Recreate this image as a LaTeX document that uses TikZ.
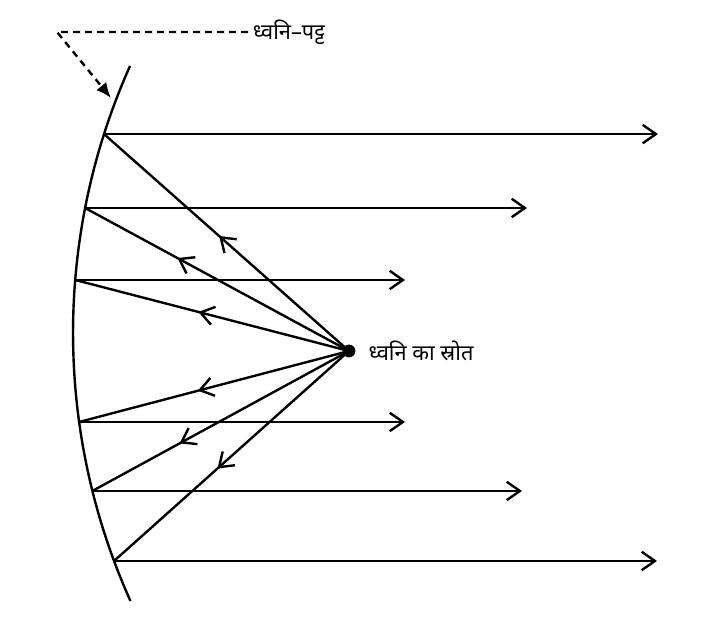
\documentclass[tikz,border=0pt]{standalone}
\usepackage{fontspec}
\newfontfamily\hindi[Script=Devanagari]{Noto Sans}
\usetikzlibrary{arrows.meta,decorations.markings,positioning}

\begin{document}
\begin{tikzpicture}[
    ray/.style={line width=1.7pt},
    outarrow/.style={ray, -{Straight Barb[length=3.3mm,width=4.6mm]}},
    inarrow/.style={ray, postaction={decorate},
      decoration={markings, mark=at position #1 with {\arrow{Straight Barb[length=3.3mm,width=4.6mm]}}}},
    pointer/.style={line width=1.7pt, dash pattern=on 1.7mm off 1.3mm, -{Latex[length=3.8mm,width=3.2mm]}},
    every node/.style={font=\hindi\fontsize{15.5}{18}\selectfont}
  ]
  \useasboundingbox (0,0) rectangle (17.75,15.5);

  % the curved sounding board
  \coordinate (C) at (18.175,7.175);
  \draw [line width=1.7pt] ([shift={(155.9:16.35)}]C) arc (155.9:204.19:16.35);
  \coordinate (r1) at ([shift={(162.29:16.35)}]C);
  \coordinate (r2) at ([shift={(168.98:16.35)}]C);
  \coordinate (r3) at ([shift={(175.35:16.35)}]C);
  \coordinate (r4) at ([shift={(187.82:16.35)}]C);
  \coordinate (r5) at ([shift={(193.98:16.35)}]C);
  \coordinate (r6) at ([shift={(200.40:16.35)}]C);

  % source
  \node [circle, fill, inner sep=0pt, minimum size=3.2mm] (src) at (8.725,6.725) {};
  \node [right=2mm of src] (srclabel) {ध्वनि का स्रोत};

  % rays from the source to the board
  \draw [inarrow=0.53] (src.center) -- (r1);
  \draw [inarrow=0.65] (src.center) -- (r2);
  \draw [inarrow=0.55] (src.center) -- (r3);
  \draw [inarrow=0.56] (src.center) -- (r4);
  \draw [inarrow=0.66] (src.center) -- (r5);
  \draw [inarrow=0.56] (src.center) -- (r6);

  % reflected rays
  \coordinate (e1) at (16.45,0 |- r1);
  \coordinate (e2) at (13.175,0 |- r2);
  \coordinate (e3) at (10.125,0 |- r3);
  \coordinate (e4) at (10.125,0 |- r4);
  \coordinate (e5) at (13.05,0 |- r5);
  \coordinate (e6) at (16.425,0 |- r6);
  \draw [outarrow] (r1) -- (e1);
  \draw [outarrow] (r2) -- (e2);
  \draw [outarrow] (r3) -- (e3);
  \draw [outarrow] (r4) -- (e4);
  \draw [outarrow] (r5) -- (e5);
  \draw [outarrow] (r6) -- (e6);

  % label of the board
  \node [anchor=west] (board) at (6.2,14.7) {ध्वनि–पट्ट};
  \coordinate (bend) at (1.425,14.7);
  \coordinate (tip) at (2.775,13.05);
  \draw [pointer] (board.west) -- (bend) -- (tip);
\end{tikzpicture}
\end{document}
